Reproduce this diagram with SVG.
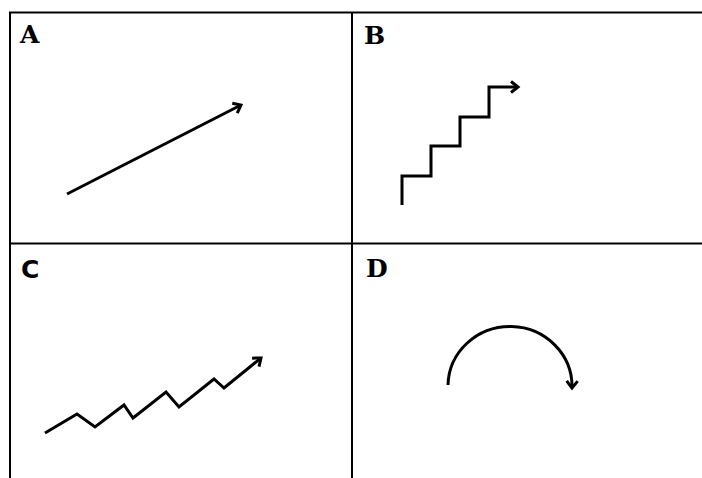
<svg xmlns="http://www.w3.org/2000/svg" width="702" height="478" viewBox="0 0 702 478">
<style>
.frame{fill:none;stroke:#000;stroke-width:2}
.lbl{font-family:"DejaVu Serif","Liberation Serif",serif;font-weight:bold;font-size:25px;fill:#000}
.lbls{font-family:"DejaVu Sans","Liberation Sans",sans-serif;font-weight:bold;font-size:25px;fill:#000}
.ln{fill:none;stroke:#000;stroke-width:3;stroke-linejoin:miter}
</style>
<defs>
<marker id="ah" markerUnits="userSpaceOnUse" viewBox="0 0 14 14" refX="11" refY="7" markerWidth="14" markerHeight="14" orient="auto">
<path d="M4,1.5 L11,7 L4,12.5" fill="none" stroke="#000" stroke-width="3"/>
</marker>
</defs>
<rect width="702" height="478" fill="#fff"/>
<g id="grid">
<path class="frame" d="M10,478 V12.5 H702 M352,12.5 V478 M10,243.5 H702"/>
</g>
<g id="panelA">
<text class="lbl" x="20" y="43">A</text>
</g>
<g id="panelB">
<text class="lbl" x="364" y="44">B</text>
</g>
<g id="panelC">
<text class="lbls" x="21" y="278">C</text>
</g>
<g id="panelD">
<text class="lbl" x="366" y="277">D</text>
</g>
<g id="connectors">
<path class="ln" d="M67,194 L241,105" marker-end="url(#ah)"/>
<path class="ln" d="M402,205 V176 H431 V146 H460 V117 H489 V87 H518" marker-end="url(#ah)"/>
<path class="ln" d="M45,433 L77,414 L95,427 L124,405 L133,418 L166,392 L179,407 L214,379 L224,388 L261,358" marker-end="url(#ah)"/>
<path class="ln" d="M448,385 A62,60 0 0 1 572,388" marker-end="url(#ah)"/>
</g>
</svg>
